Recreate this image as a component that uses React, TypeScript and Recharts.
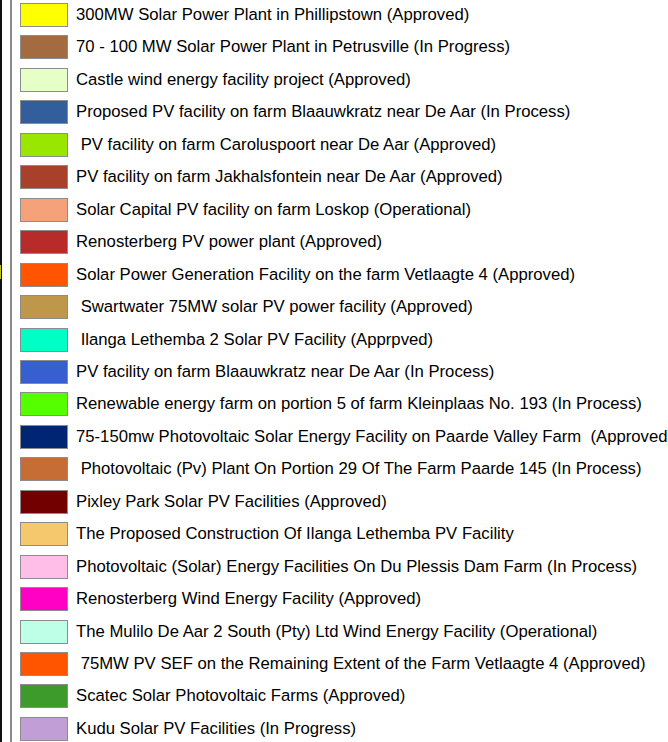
import React from 'react';
import { PieChart, Pie, Cell, Legend } from 'recharts';

const LABELS = [
  '300MW Solar Power Plant in Phillipstown (Approved)',
  '70 - 100 MW Solar Power Plant in Petrusville (In Progress)',
  'Castle wind energy facility project (Approved)',
  'Proposed PV facility on farm Blaauwkratz near De Aar (In Process)',
  ' PV facility on farm Caroluspoort near De Aar (Approved)',
  'PV facility on farm Jakhalsfontein near De Aar (Approved)',
  'Solar Capital PV facility on farm Loskop (Operational)',
  'Renosterberg PV power plant (Approved)',
  'Solar Power Generation Facility on the farm Vetlaagte 4 (Approved)',
  ' Swartwater 75MW solar PV power facility (Approved)',
  ' Ilanga Lethemba 2 Solar PV Facility (Apprpved)',
  'PV facility on farm Blaauwkratz near De Aar (In Process)',
  'Renewable energy farm on portion 5 of farm Kleinplaas No. 193 (In Process)',
  '75-150mw Photovoltaic Solar Energy Facility on Paarde Valley Farm  (Approved)',
  ' Photovoltaic (Pv) Plant On Portion 29 Of The Farm Paarde 145 (In Process)',
  'Pixley Park Solar PV Facilities (Approved)',
  'The Proposed Construction Of Ilanga Lethemba PV Facility',
  'Photovoltaic (Solar) Energy Facilities On Du Plessis Dam Farm (In Process)',
  'Renosterberg Wind Energy Facility (Approved)',
  'The Mulilo De Aar 2 South (Pty) Ltd Wind Energy Facility (Operational)',
  ' 75MW PV SEF on the Remaining Extent of the Farm Vetlaagte 4 (Approved)',
  'Scatec Solar Photovoltaic Farms (Approved)',
  'Kudu Solar PV Facilities (In Progress)',
];

const COLORS = [
  '#FFFF00', '#A36B3F', '#E6FFC6', '#325E9B', '#99E600', '#A8402A',
  '#F5A27A', '#B82B2B', '#FF5500', '#BF974A', '#00FFC5', '#3660D0',
  '#55FF00', '#002673', '#C66D36', '#730000', '#F5C86E', '#FFBEE8',
  '#FF00C5', '#BEFFE8', '#FF5500', '#3C9B2A', '#C29ED7',
];

const data = LABELS.map((name) => ({ name, value: 1 }));

const ROW_H = 32.45;

function LegendBox(props: any) {
  const raw: any[] =
    props.payload && props.payload.length
      ? props.payload
      : LABELS.map((l, i) => ({ value: l, color: COLORS[i] }));
  // keep the original legend order
  const items = [...raw].sort((a, b) => LABELS.indexOf(a.value) - LABELS.indexOf(b.value));
  return (
    <div style={{ position: 'relative', width: 668, height: 742, overflow: 'hidden' }}>
      <div style={{ position: 'absolute', left: 0, top: 0, width: 2, height: 742, background: '#111' }} />
      <div style={{ position: 'absolute', left: 0, top: 265, width: 1, height: 14, background: '#c8c800' }} />
      <div style={{ position: 'absolute', left: 10, top: 0, width: 2, height: 742, background: '#8a8a8a' }} />
      {items.map((entry, i) => (
        <div
          key={i}
          style={{
            position: 'absolute',
            left: 20,
            top: 3 + i * ROW_H,
            height: 24,
            display: 'flex',
            alignItems: 'center',
            whiteSpace: 'pre',
          }}
        >
          <div
            style={{
              width: 46,
              height: 22,
              background: entry.payload?.fill || entry.color || COLORS[i],
              border: '1px solid #8c8c8c',
              flex: 'none',
            }}
          />
          <span
            style={{
              marginLeft: 8,
              fontFamily: '"Liberation Sans", Arial, sans-serif',
              fontSize: 16.7,
              color: '#000',
              lineHeight: '24px',
            }}
          >
            {entry.value}
          </span>
        </div>
      ))}
    </div>
  );
}

export default function App() {
  return (
    <div style={{ position: 'absolute', left: 0, top: 0, width: 668, height: 742, background: '#fff', overflow: 'hidden' }}>
      <PieChart width={668} height={742} margin={{ top: 0, right: 0, bottom: 0, left: 0 }}>
        <Pie
          data={data}
          dataKey="value"
          nameKey="name"
          cx={-2000}
          cy={-2000}
          outerRadius={1}
          isAnimationActive={false}
          stroke="none"
        >
          {data.map((_, idx) => (
            <Cell key={idx} fill={COLORS[idx]} />
          ))}
        </Pie>
        <Legend
          layout="vertical"
          verticalAlign="top"
          align="left"
          content={<LegendBox />}
          wrapperStyle={{ top: 0, left: 0, width: 668, height: 742, margin: 0, padding: 0 }}
        />
      </PieChart>
    </div>
  );
}
